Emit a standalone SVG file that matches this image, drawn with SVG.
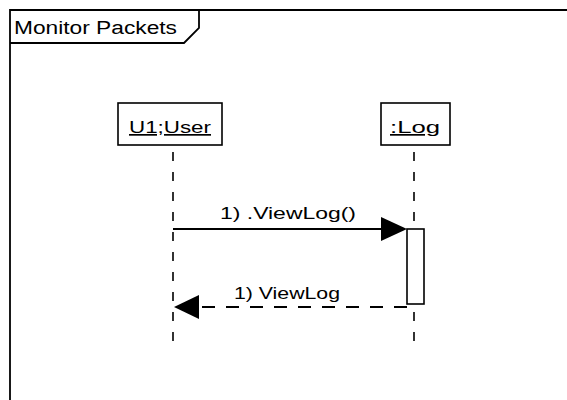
<svg xmlns="http://www.w3.org/2000/svg" width="567" height="400" viewBox="0 0 567 400">
<style>
text{font-family:"Liberation Sans",Arial,sans-serif;fill:#000}
.box{fill:#fff;stroke:#000;stroke-width:1.6}
.life{stroke:#000;stroke-width:1.6;stroke-dasharray:9 11;fill:none}
.msg{stroke:#000;stroke-width:2;fill:none}
.ret{stroke:#000;stroke-width:2;fill:none;stroke-dasharray:13 11}
.head{fill:#000}
</style>
<rect width="567" height="400" fill="#fff"/>
<g id="frame">
<path d="M10,400 V10 H567" fill="none" stroke="#000" stroke-width="1.8"/>
<path d="M10,43 H184 L199,28 V10" fill="none" stroke="#000" stroke-width="1.8"/>
<text x="14" y="34" font-size="18" textLength="163" lengthAdjust="spacingAndGlyphs">Monitor Packets</text>
</g>
<g id="connectors">
<line class="life" x1="173" y1="152" x2="173" y2="345"/>
<line class="life" x1="414" y1="152" x2="414" y2="345"/>
<line class="msg" x1="173" y1="229" x2="385" y2="229"/>
<polygon class="head" points="381,217 407,229 381,241"/>
<line class="ret" x1="407" y1="307" x2="196" y2="307"/>
<polygon class="head" points="199,295 174,307 199,319"/>
<text x="288" y="219" font-size="17" text-anchor="middle" textLength="136" lengthAdjust="spacingAndGlyphs">1) .ViewLog()</text>
<text x="287" y="299" font-size="17" text-anchor="middle" textLength="106" lengthAdjust="spacingAndGlyphs">1) ViewLog</text>
</g>
<g id="user">
<rect class="box" x="118" y="103" width="104" height="42"/>
<text x="170" y="133" font-size="17" text-anchor="middle" text-decoration="underline" textLength="82" lengthAdjust="spacingAndGlyphs">U1;User</text>
</g>
<g id="log">
<rect class="box" x="381" y="103" width="69" height="42"/>
<text x="415" y="133" font-size="17" text-anchor="middle" text-decoration="underline" textLength="50" lengthAdjust="spacingAndGlyphs">:Log</text>
</g>
<g id="activation">
<rect class="box" x="407" y="229" width="17" height="75"/>
</g>
</svg>
